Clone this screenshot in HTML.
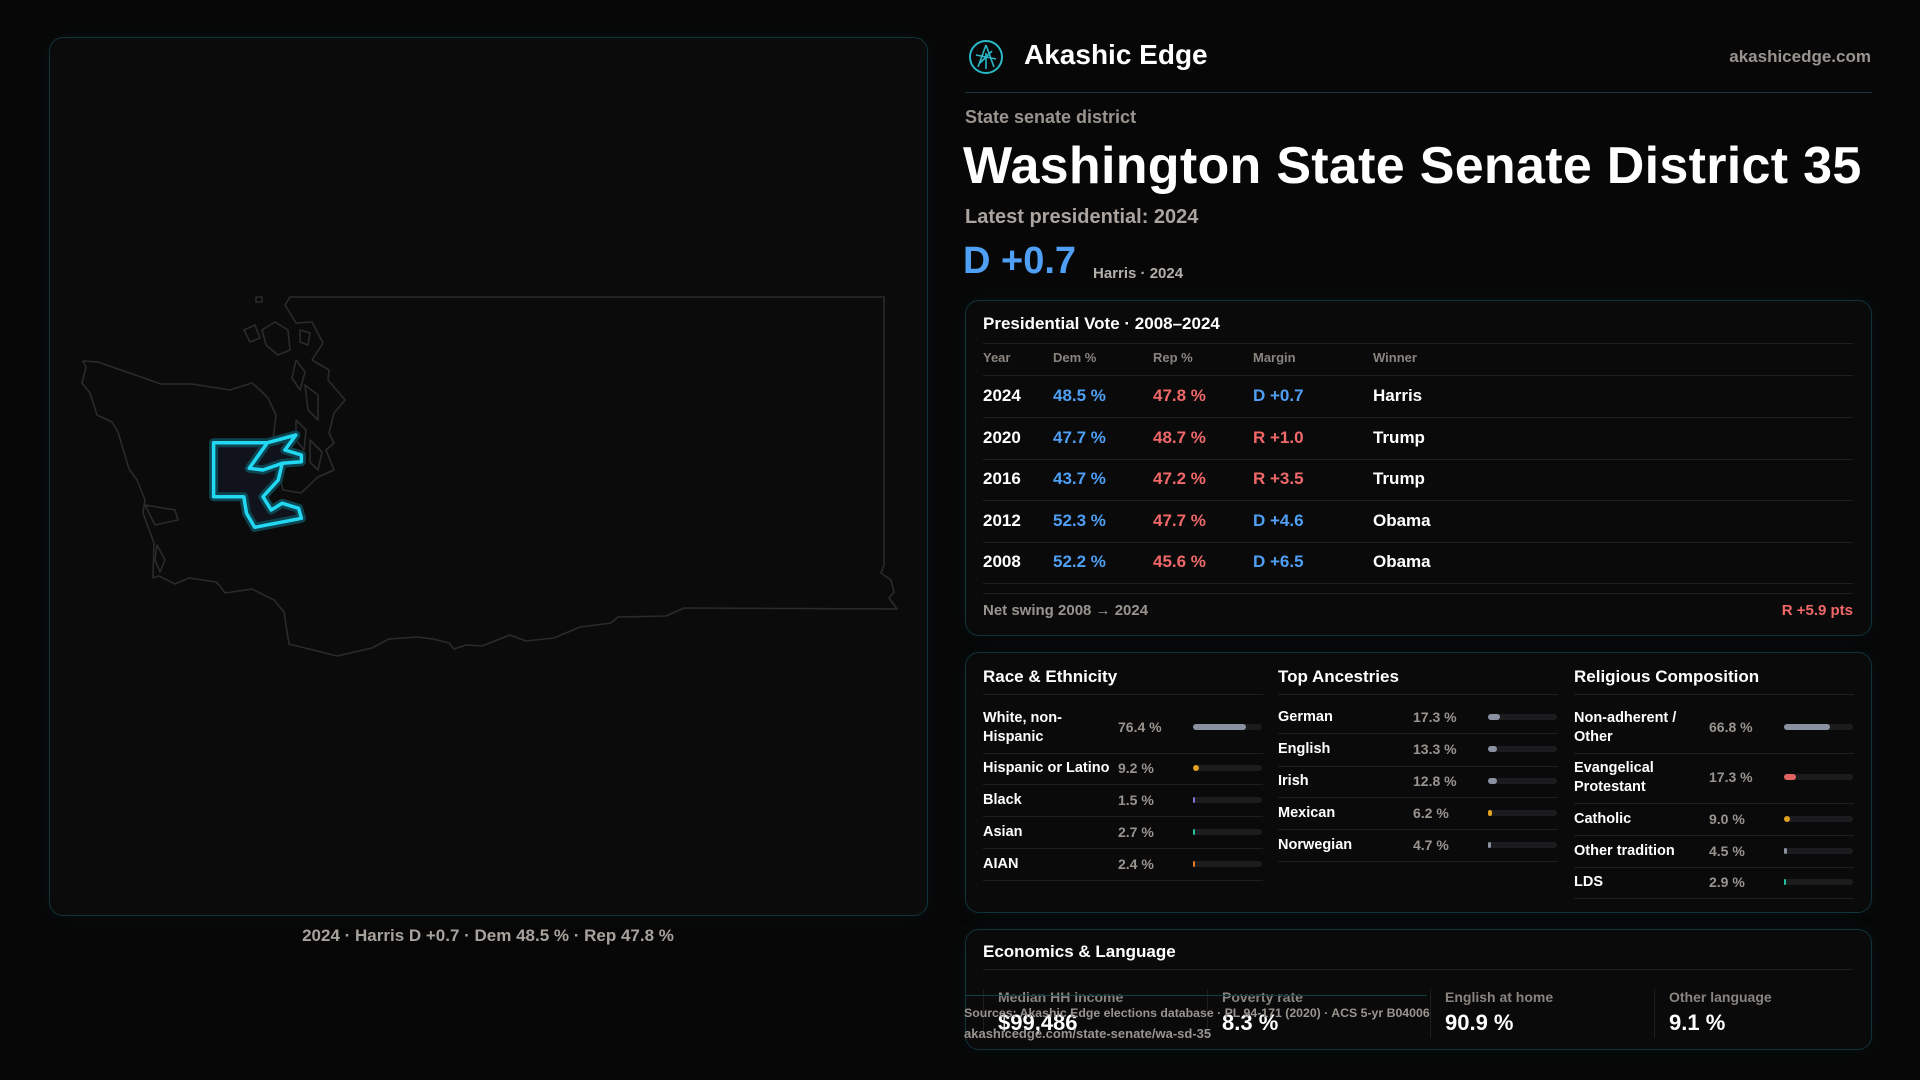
<!DOCTYPE html>
<html><head><meta charset="utf-8">
<style>
*{margin:0;padding:0;box-sizing:border-box}
body{width:1920px;height:1080px;background:#070707;font-family:"Liberation Sans",sans-serif;position:relative;overflow:hidden;color:#fff}
.a{position:absolute;white-space:nowrap}
.g{color:#9a948f}
.b{font-weight:bold}
.card{position:absolute;border:1.5px solid #10343b;border-radius:14px;background:#0a0a0b;box-shadow:0 0 18px rgba(20,90,100,0.12)}
.hl{position:absolute;height:1px;background:#1f1f22}
.vl{position:absolute;width:1px;background:#1f1f22}
</style></head>
<body>
<div class="card" style="left:49px;top:37px;width:879px;height:879px;background:#0b0b0c"></div>
<svg class="a" style="left:0;top:0" width="940" height="930">
<g fill="none" stroke="#2b2b2d" stroke-width="1.6" stroke-linejoin="round">
<path d="M290,297 L884,297 L884,565 L881,573 L891,580 L894,592 L889,598 L897,609 L684,608 L666,616 L618,617 L611,623 L580,627 L554,638 L526,641 L510,635 L482,646 L466,645 L454,649 L449,643 L433,639 L417,637 L389,639 L372,648 L337,656 L289,644 L284,612 L274,600 L252,589 L225,593 L220,586 L216,582 L189,578 L175,584 L159,576 L153,578 L154,543 L143,513 L145,500 L137,480 L129,469 L118,432 L112,422 L97,415 L90,393 L82,383 L86,367 L83,361 L98,362 L161,384 L192,384 L230,390 L252,383 L260,390 L268,398 L276,415 L273,440 L278,470 L283,490 L301,493 L318,477 L334,470 L326,450 L334,443 L329,433 L334,413 L345,400 L328,380 L329,370 L312,360 L323,343 L312,322 L296,323 L285,305 Z"/>
<path d="M262,330 L275,322 L288,330 L290,350 L278,355 L266,345 Z"/>
<path d="M244,330 L255,325 L260,338 L250,342 Z"/>
<path d="M300,330 L310,333 L308,345 L300,342 Z"/>
<path d="M296,360 L305,372 L300,390 L292,378 Z"/>
<path d="M305,385 L318,395 L318,420 L308,410 Z"/>
<path d="M296,420 L306,430 L304,450 L296,440 Z"/>
<path d="M310,440 L322,452 L318,470 L310,462 Z"/>
<path d="M145,505 L175,510 L178,520 L155,525 Z"/>
<path d="M157,545 L165,560 L160,572 L155,560 Z"/>
<path d="M256,297 L262,297 L262,302 L256,302 Z"/>
</g>
<g>
<path d="M213.6,442.7 L267.4,442.7 L295.9,435 L284.9,450 L301.4,455 L301.4,461.7 L282.2,463.3 L278.3,480 L263,496.7 L271.2,510 L282.2,503.3 L298.6,508.3 L301.4,518.3 L254.7,527.3 L246.5,513.3 L243.8,496.7 L213.6,496.7 Z" fill="#10131c" stroke="#0d4450" stroke-width="9" stroke-linejoin="round"/>
<path d="M267.4,442.7 L249.2,468.3 L263,470 L282.2,463.3" fill="none" stroke="#0d4450" stroke-width="9" stroke-linejoin="round"/>
<path d="M213.6,442.7 L267.4,442.7 L295.9,435 L284.9,450 L301.4,455 L301.4,461.7 L282.2,463.3 L278.3,480 L263,496.7 L271.2,510 L282.2,503.3 L298.6,508.3 L301.4,518.3 L254.7,527.3 L246.5,513.3 L243.8,496.7 L213.6,496.7 Z" fill="none" stroke="#22d8f2" stroke-width="3.5" stroke-linejoin="round"/>
<path d="M267.4,442.7 L249.2,468.3 L263,470 L282.2,463.3" fill="none" stroke="#22d8f2" stroke-width="3.5" stroke-linejoin="round"/>
</g>
</svg>
<div class="a b" style="left:0;width:976px;text-align:center;top:926px;font-size:17px;color:#a8a29d">2024 · Harris D +0.7 · Dem 48.5 % · Rep 47.8 %</div>

<svg class="a" style="left:968px;top:39px" width="36" height="36">
<circle cx="18" cy="18" r="16" fill="none" stroke="#2ab8c8" stroke-width="2"/>
<path d="M18,6 L10,28 M18,6 L26,28 M8,16 L28,20 M12,24 L24,12 M18,14 L18,30" stroke="#2ab8c8" stroke-width="1.6" fill="none"/>
</svg>
<div class="a b" style="left:1024px;top:39px;font-size:28px">Akashic Edge</div>
<div class="a b g" style="right:49px;top:47px;font-size:17px">akashicedge.com</div>
<div class="hl" style="left:965px;top:92px;width:907px;background:#173840"></div>
<div class="a b g" style="left:965px;top:107px;font-size:18px">State senate district</div>
<div class="a b" style="left:963px;top:136px;font-size:52px;letter-spacing:0.3px">Washington State Senate District 35</div>
<div class="a b" style="left:965px;top:206px;font-size:20px;color:#aaa39e">Latest presidential: 2024</div>
<div class="a b" style="left:963px;top:240px;font-size:38px;color:#4f9ff5">D +0.7</div>
<div class="a b" style="left:1093px;top:265px;font-size:15px;color:#b5afaa">Harris · 2024</div>

<div class="card" style="left:965px;top:300px;width:907px;height:336px"></div>
<div class="a b" style="left:983px;top:314px;font-size:17px">Presidential Vote · 2008–2024</div>
<div class="hl" style="left:983px;top:343px;width:870px"></div>
<div id="ptable"></div>
<div class="hl" style="left:983px;top:593px;width:870px"></div>
<div class="a b g" style="left:983px;top:602px;font-size:15px">Net swing 2008 → 2024</div>
<div class="a b" style="right:67px;top:602px;font-size:15px;color:#f06868">R +5.9 pts</div>

<div class="card" style="left:965px;top:652px;width:907px;height:261px"></div>
<div id="demo"></div>

<div class="card" style="left:965px;top:929px;width:907px;height:121px"></div>
<div class="a b" style="left:983px;top:942px;font-size:17px">Economics &amp; Language</div>
<div class="hl" style="left:983px;top:969px;width:870px"></div>
<div id="econ"></div>
<div class="hl" style="left:965px;top:995px;width:462px;background:#124048"></div>
<div class="a b g" style="left:964px;top:1006px;font-size:12.3px">Sources: Akashic Edge elections database · PL 94-171 (2020) · ACS 5-yr B04006</div>
<div class="a b g" style="left:964px;top:1026px;font-size:13px">akashicedge.com/state-senate/wa-sd-35</div>

<script>
const years=["2024","2020","2016","2012","2008"];
const demPct=[48.5,47.7,43.7,52.3,52.2];
const repPct=[47.8,48.7,47.2,47.7,45.6];
const margins=["D +0.7","R +1.0","R +3.5","D +4.6","D +6.5"];
const winners=["Harris","Trump","Trump","Obama","Obama"];
const headers=["Year","Dem %","Rep %","Margin","Winner"];
const raceLabels=["White, non-\nHispanic","Hispanic or Latino","Black","Asian","AIAN"];
const raceValues=[76.4,9.2,1.5,2.7,2.4];
const ancLabels=["German","English","Irish","Mexican","Norwegian"];
const ancValues=[17.3,13.3,12.8,6.2,4.7];
const relLabels=["Non-adherent /\nOther","Evangelical\nProtestant","Catholic","Other tradition","LDS"];
const relValues=[66.8,17.3,9.0,4.5,2.9];
const econLabels=["Median HH income","Poverty rate","English at home","Other language"];
const econValues=["$99,486","8.3 %","90.9 %","9.1 %"];

const BLUE="#4f9ff5",RED="#f06868";
function mk(parent,css,text){const d=document.createElement('div');d.className='a';d.style.cssText=css;if(text!==undefined)d.textContent=text;parent.appendChild(d);return d;}
const pt=document.getElementById('ptable');
const colX=[983,1053,1153,1253,1373];
headers.forEach((h,i)=>{const d=mk(pt,`left:${colX[i]}px;top:350px;font-size:13px;font-weight:bold;color:#8a847f`,h);

});
mk(pt,'left:983px;top:375px;width:870px;height:1px;background:#1f1f22');
const rowY=i=>396+i*41.6;
years.forEach((y,i)=>{
 const cy=rowY(i);
 const cells=[[y,'#fff'],[demPct[i].toFixed(1)+' %',BLUE],[repPct[i].toFixed(1)+' %',RED],[margins[i],margins[i][0]==='D'?BLUE:RED],[winners[i],'#fff']];
 cells.forEach((c,j)=>{const d=mk(pt,`left:${colX[j]}px;top:${cy-10}px;font-size:17px;font-weight:bold;color:${c[1]}`,c[0]);
 
 });
 const l=mk(pt,`left:983px;top:${cy+21}px;width:870px;height:1px;background:#1f1f22`);
 
 
});

const demo=document.getElementById('demo');
const barColors={race:["#8a92a2","#e0a020","#7d74d6","#22c0a0","#e07a20"],anc:["#8a92a2","#8a92a2","#8a92a2","#e0a020","#8a92a2"],rel:["#8a92a2","#e06464","#e0a020","#8a92a2","#22c0a0"]};
const BARW=69;
function xBar(v){return Math.max(2,v/100*BARW);}
function column(title,x0,labels,values,colors,name,valX,barX,rows){
 const t=mk(demo,`left:${x0}px;top:667px;font-size:17px;font-weight:bold`,title);
 
 
 mk(demo,`left:${x0}px;top:694px;width:280px;height:1px;background:#1f1f22`);
 labels.forEach((lab,i)=>{
  const cy=rows[i][0],ly=rows[i][1];
  const two=lab.includes('\n');
  const l=mk(demo,`left:${x0}px;top:${cy-(two?18:9)}px;font-size:14.5px;font-weight:bold;line-height:19px;white-space:pre`,lab);
  
  
  const v=mk(demo,`left:${valX}px;top:${cy-8}px;font-size:14px;font-weight:bold;color:#9a948f`,values[i].toFixed(1)+' %');
  
  
  mk(demo,`left:${barX}px;top:${cy-3}px;width:${BARW}px;height:6px;border-radius:3px;background:#1c1c1f`);
  const b=mk(demo,`left:${barX}px;top:${cy-3}px;width:${xBar(values[i])}px;height:6px;border-radius:3px;background:${colors[i]}`);
  
  
  mk(demo,`left:${x0}px;top:${ly}px;width:280px;height:1px;background:#1f1f22`);
 });
}
column("Race & Ethnicity",983,raceLabels,raceValues,barColors.race,'race',1118,1193,[[727,753],[768,784],[800,816],[832,848],[864,880]]);
column("Top Ancestries",1278,ancLabels,ancValues,barColors.anc,'ancestry',1413,1488,[[717,733],[749,766],[781,797],[813,829],[845,861]]);
column("Religious Composition",1574,relLabels,relValues,barColors.rel,'religion',1709,1784,[[727,753],[777,803],[819,835],[851,867],[882,898]]);

const econ=document.getElementById('econ');
const ecX=[983,1207,1430,1654];
econLabels.forEach((lab,i)=>{
 mk(econ,`left:${ecX[i]}px;top:989px;width:1px;height:49px;background:#1f1f22`);
 const l=mk(econ,`left:${ecX[i]+15}px;top:989px;font-size:14px;font-weight:bold;color:#8a847f`,lab);
 
 
 const v=mk(econ,`left:${ecX[i]+15}px;top:1010px;font-size:22px;font-weight:bold`,econValues[i]);
 
 
});
</script>
</body></html>
